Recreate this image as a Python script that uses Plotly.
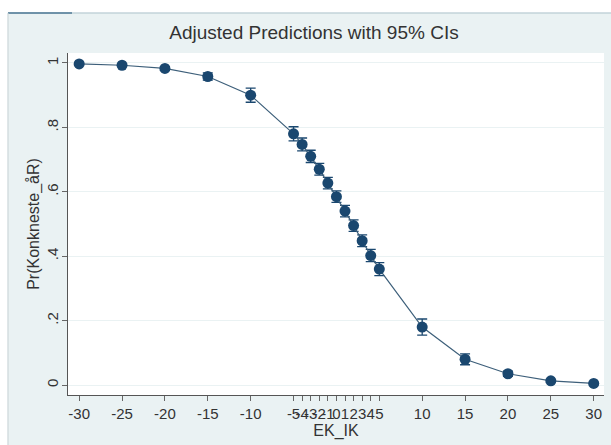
import plotly.graph_objects as go

ek_ik = [-30, -25, -20, -15, -10, -5, -4, -3, -2, -1, 0, 1, 2, 3, 4, 5, 10, 15, 20, 25, 30]
pr = [0.997, 0.993, 0.983, 0.958, 0.900, 0.780, 0.747, 0.710, 0.670, 0.627, 0.585,
      0.540, 0.495, 0.448, 0.402, 0.360, 0.180, 0.080, 0.035, 0.013, 0.005]
ci_half = [0.003, 0.004, 0.006, 0.011, 0.022, 0.022, 0.020, 0.019, 0.018, 0.018, 0.018,
           0.018, 0.018, 0.018, 0.019, 0.020, 0.025, 0.017, 0.008, 0.004, 0.002]

x_ticks = [-30, -25, -20, -15, -10, -5, -4, -3, -2, -1, 0, 1, 2, 3, 4, 5, 10, 15, 20, 25, 30]
x_ticktext = [str(v) for v in x_ticks]
y_ticks = [0, 0.2, 0.4, 0.6, 0.8, 1]
y_ticktext = ["0", ".2", ".4", ".6", ".8", "1"]

navy = "#1a476f"
bg = "#eaf2f3"

fig = go.Figure()
fig.add_trace(go.Scatter(
    x=ek_ik, y=pr, mode="lines+markers",
    line=dict(color="#3d5f7a", width=1.2),
    marker=dict(color=navy, size=11),
    error_y=dict(type="data", array=ci_half, color=navy, thickness=1.3, width=5),
    showlegend=False,
))

W, H = 611, 445
ml, mr, mt, mb = 68, 7, 53, 50
pw, ph = W - ml - mr, H - mt - mb

def px_x(p):
    return (p - ml) / pw

def px_y(p):
    return (H - mb - p) / ph

shapes = [
    dict(type="rect", xref="paper", yref="paper", x0=px_x(0), x1=px_x(W), y0=px_y(12.5), y1=px_y(0),
         fillcolor="white", line=dict(width=0), layer="below"),
    dict(type="rect", xref="paper", yref="paper", x0=px_x(0), x1=px_x(7.5), y0=px_y(H), y1=px_y(0),
         fillcolor="white", line=dict(width=0), layer="below"),
    dict(type="line", xref="paper", yref="paper", x0=px_x(8), x1=px_x(W), y0=px_y(13), y1=px_y(13),
         line=dict(color="#aec3cc", width=1)),
    dict(type="line", xref="paper", yref="paper", x0=px_x(8), x1=px_x(72), y0=px_y(13), y1=px_y(13),
         line=dict(color="#4f7a96", width=1.5)),
    dict(type="line", xref="paper", yref="paper", x0=px_x(8), x1=px_x(8), y0=px_y(13), y1=px_y(H),
         line=dict(color="#c8d2d6", width=1)),
]

font = "Liberation Sans, Arial, sans-serif"
fig.update_layout(
    width=W, height=H,
    margin=dict(l=ml, r=mr, t=mt, b=mb),
    paper_bgcolor=bg, plot_bgcolor="white",
    font=dict(family=font, color="#333333", size=15),
    title=dict(text="Adjusted Predictions with 95% CIs", x=px_x(314), xanchor="center", xref="paper",
               y=1 - 32 / H, yanchor="middle", font=dict(size=19, color="#333333")),
    shapes=shapes,
    xaxis=dict(range=[-31.3, 31.2], tickmode="array", tickvals=x_ticks, ticktext=x_ticktext,
               tickangle=0, ticks="outside", ticklen=5, tickcolor="#666", tickwidth=1,
               showline=True, linecolor="#555", linewidth=1, showgrid=False, zeroline=False,
               automargin=False,
               tickfont=dict(size=15), title=dict(text="EK_IK", standoff=0, font=dict(size=16))),
    yaxis=dict(range=[-0.031, 1.031], tickmode="array", tickvals=y_ticks, ticktext=y_ticktext,
               tickangle=-90, ticks="outside", ticklen=5, tickcolor="#666", tickwidth=1,
               ticklabelstandoff=-2,
               showline=True, linecolor="#555", linewidth=1, showgrid=True, gridcolor=bg,
               gridwidth=1, zeroline=False, automargin=False, tickfont=dict(size=15),
               title=dict(text="Pr(Konkneste_åR)", standoff=0, font=dict(size=16))),
)

fig.write_html("out.html", config={"displayModeBar": False},
               post_script="document.body.style.margin='0';document.body.style.overflow='hidden';")
